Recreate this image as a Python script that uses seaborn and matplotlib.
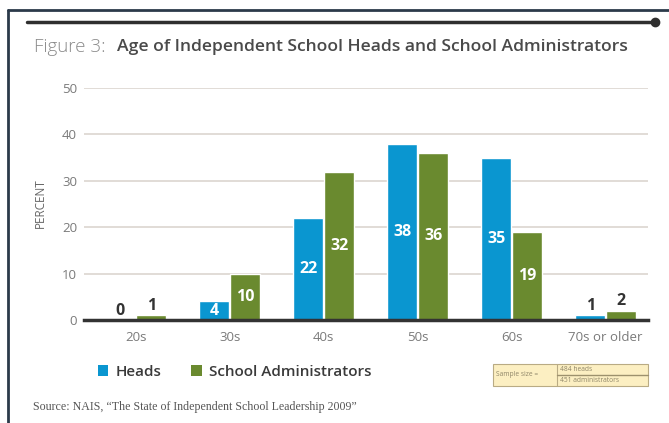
import matplotlib
matplotlib.use("Agg")
import matplotlib.pyplot as plt
from matplotlib.lines import Line2D
from matplotlib.patches import Patch, Rectangle
import seaborn as sns
import pandas as pd

# ---- data ----
categories = ["20s", "30s", "40s", "50s", "60s", "70s or older"]
heads = [0, 4, 22, 38, 35, 1]
admins = [1, 10, 32, 36, 19, 2]
series_names = ["Heads", "School Administrators"]
yticks = [0, 10, 20, 30, 40, 50]

BLUE = "#0a96d0"
GREEN = "#6a8a2f"

df = pd.DataFrame({
    "age": categories * 2,
    "pct": heads + admins,
    "group": [series_names[0]] * len(categories) + [series_names[1]] * len(categories),
})

sns.set_theme(style="white")
plt.rcParams["font.family"] = ["Open Sans", "DejaVu Sans"]

W, H = 669, 423
fig = plt.figure(figsize=(W / 100, H / 100), dpi=100)
fig.patch.set_facecolor("white")

def fx(px):
    return px / W

def fy(py):
    return 1 - py / H

ax = fig.add_axes([fx(84), fy(320), fx(648 - 84), (320 - 88) / H])
sns.barplot(data=df, x="age", y="pct", hue="group", hue_order=series_names,
            order=categories, palette=[BLUE, GREEN], saturation=1,
            width=0.66, gap=0.05, ax=ax, legend=False)

ax.set_ylim(0, 50)
ax.set_xlim(-0.55, 5.45)
ax.set_yticks(yticks)
ax.yaxis.grid(True, color="#dcd6cf", lw=1.2)
ax.set_axisbelow(True)
for s in ["top", "right", "left"]:
    ax.spines[s].set_visible(False)
ax.spines["bottom"].set_color("#333333")
ax.spines["bottom"].set_linewidth(2.5)
ax.spines["bottom"].set_zorder(5)
ax.tick_params(axis="both", length=0, labelcolor="#7a7a7a", labelsize=9.5)
ax.tick_params(axis="y", pad=5)
ax.tick_params(axis="x", pad=8)
ax.set_xlabel("")
ax.set_ylabel("")

# bar value labels
for cont, vals in zip(ax.containers, [heads, admins]):
    inside = [str(v) if v >= 4 else "" for v in vals]
    outside = [str(v) if v < 4 else "" for v in vals]
    ax.bar_label(cont, labels=inside, label_type="center", color="white",
                 fontweight="bold", fontsize=11.5)
    ax.bar_label(cont, labels=outside, label_type="edge", padding=1,
                 color="#333333", fontweight="bold", fontsize=11.5)

# y label
fig.text(fx(40), fy(203), "PERCENT", rotation=90, ha="center", va="center",
         fontsize=8.5, color="#666666")

# title
fig.text(fx(34), fy(47), "Figure 3:", fontsize=13.5, color="#8a8a8a",
         ha="left", va="center", fontweight="light")
fig.text(fx(117), fy(47), "Age of Independent School Heads and School Administrators",
         fontsize=12.6, color="#4a4a4a", ha="left", va="center", fontweight="semibold")

# decorative rules / frame
fig.add_artist(Line2D([fx(27), fx(655)], [fy(22), fy(22)], color="#2f2f2f", lw=2.5))
fig.add_artist(Line2D([fx(655)], [fy(22)], marker="o", ms=6, color="#2f2f2f"))
fig.add_artist(Line2D([fx(8), fx(669)], [fy(10), fy(10)], color="#2b3a4a", lw=2))
fig.add_artist(Line2D([fx(8), fx(8)], [fy(10), fy(423)], color="#2b3a4a", lw=2))

# legend
handles = [Patch(facecolor=BLUE, edgecolor="none"), Patch(facecolor=GREEN, edgecolor="none")]
fig.legend(handles, series_names, loc="center left", bbox_to_anchor=(fx(84), fy(372)),
           ncol=2, frameon=False, handlelength=0.7, handleheight=0.7,
           handletextpad=0.5, columnspacing=1.9, labelcolor="#3a3a3a",
           prop={"weight": "semibold", "size": 11})

# sample size box
bx0, bx1, by0, by1, sep = 493, 648, 364, 386, 557
fig.add_artist(Rectangle((fx(bx0), fy(by1)), fx(bx1 - bx0), (by1 - by0) / H,
                         facecolor="#fcefc2", edgecolor="#b9ab84", lw=0.8))
fig.add_artist(Line2D([fx(sep), fx(sep)], [fy(by0), fy(by1)], color="#b9ab84", lw=0.8))
fig.add_artist(Line2D([fx(sep), fx(bx1)], [fy(375), fy(375)], color="#9d916d", lw=1))
fig.text(fx(496), fy(375), "Sample size =", fontsize=4.8, color="#8e8568", va="center")
fig.text(fx(560), fy(369.5), "484 heads", fontsize=4.8, color="#8e8568", va="center")
fig.text(fx(560), fy(380.5), "451 administrators", fontsize=4.8, color="#8e8568", va="center")

# source
fig.text(fx(33), fy(407), "Source: NAIS, \u201cThe State of Independent School Leadership 2009\u201d",
         family=["Liberation Serif", "DejaVu Serif"], fontsize=8.6, color="#555555", va="center")

fig.savefig("out.png", dpi=100)
